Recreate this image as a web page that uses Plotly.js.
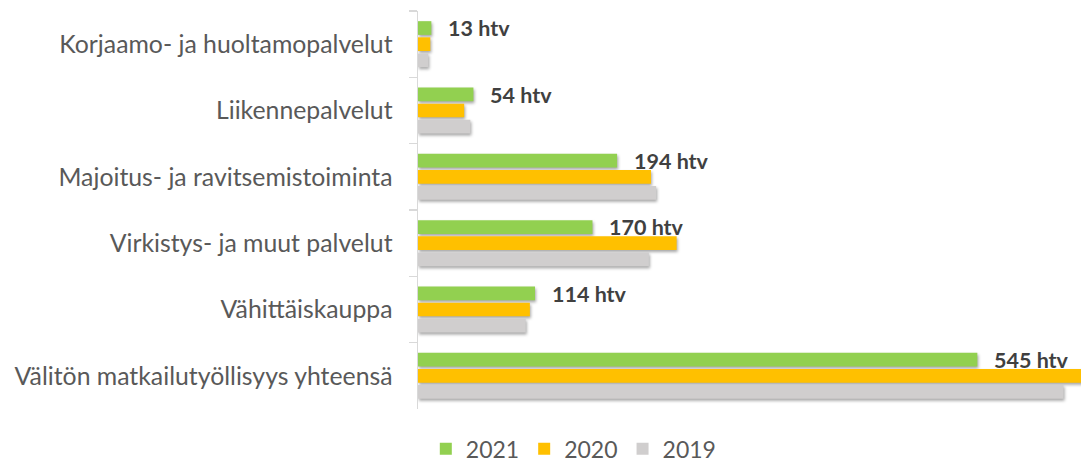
<!DOCTYPE html>
<html>
<head>
<meta charset="utf-8">
<script src="https://cdn.plot.ly/plotly-3.0.1.min.js"></script>
<style>
  html, body { margin: 0; padding: 0; background: #fff; }
  #kaavio { width: 1081px; height: 472px; }
  /* varjo palkkeihin kuten Excelissä */
  .barlayer .point path { filter: drop-shadow(1px 2px 1.5px rgba(0,0,0,0.35)); }
  /* isommat selitteen neliöt: reunaviiva samalla värillä */
  .legend .legendpoints path { stroke-width: 3px !important; }
</style>
</head>
<body>
<div id="kaavio"></div>
<script>
// Toimialat (ylhäältä alas)
const toimialat = ['Korjaamo- ja huoltamopalvelut', 'Liikennepalvelut', 'Majoitus- ja ravitsemistoiminta',
    'Virkistys- ja muut palvelut', 'Vähittäiskauppa', 'Välitön matkailutyöllisyys yhteensä'];

// Henkilötyövuodet
const htv_2021 = [13, 54, 194, 170, 114, 545];
const htv_2020 = [12, 45, 227, 252, 109, 650];
const htv_2019 = [10, 51, 232, 225, 105, 629];

const vuodet = ['2021', '2020', '2019'];

const varit = {
    '2021': '#92D050',
    '2020': '#FFC000',
    '2019': '#D0CECE',
};

const fontti = 'Lato, "Open Sans", sans-serif';

const sarjat = [htv_2021, htv_2020, htv_2019].map((arvot, i) => ({
    type: 'bar',
    orientation: 'h',
    x: arvot,
    y: toimialat,
    name: vuodet[i],
    marker: { color: varit[vuodet[i]], line: { color: varit[vuodet[i]], width: 0 } },
    hoverinfo: 'x',
}));

// htv-tekstit vuoden 2021 palkkien perään
const tekstit = htv_2021.map((v, i) => ({
    x: v,
    y: toimialat[i],
    xref: 'x',
    yref: 'y',
    text: v + ' htv',
    showarrow: false,
    xanchor: 'left',
    yanchor: 'middle',
    xshift: 15,
    yshift: 16,
    font: { family: fontti, size: 21.5, color: '#404040', weight: 'bold' },
}));

const layout = {
    width: 1081,
    height: 472,
    margin: { l: 418, r: 0, t: 11, b: 63 },
    barmode: 'group',
    bargap: 0.27,
    bargroupgap: 0.15,
    paper_bgcolor: '#fff',
    plot_bgcolor: '#fff',
    font: { family: fontti, color: '#595959' },
    xaxis: {
        range: [0, 646],
        visible: false,
        fixedrange: true,
    },
    yaxis: {
        type: 'category',
        autorange: 'reversed',
        showline: true,
        linecolor: '#D9D9D9',
        linewidth: 1.5,
        ticks: 'outside',
        tickson: 'boundaries',
        ticklen: 8,
        tickcolor: '#D9D9D9',
        tickwidth: 1.5,
        ticklabelstandoff: 19,
        tickfont: { family: fontti, size: 24.8, color: '#595959' },
        showgrid: false,
        fixedrange: true,
    },
    showlegend: true,
    legend: {
        orientation: 'h',
        x: 0.235,
        xanchor: 'center',
        y: -0.1,
        yanchor: 'middle',
        font: { family: fontti, size: 23, color: '#595959' },
        itemwidth: 30,
    },
    annotations: tekstit,
};

Plotly.newPlot('kaavio', sarjat, layout, { displayModeBar: false, staticPlot: true });
</script>
</body>
</html>
